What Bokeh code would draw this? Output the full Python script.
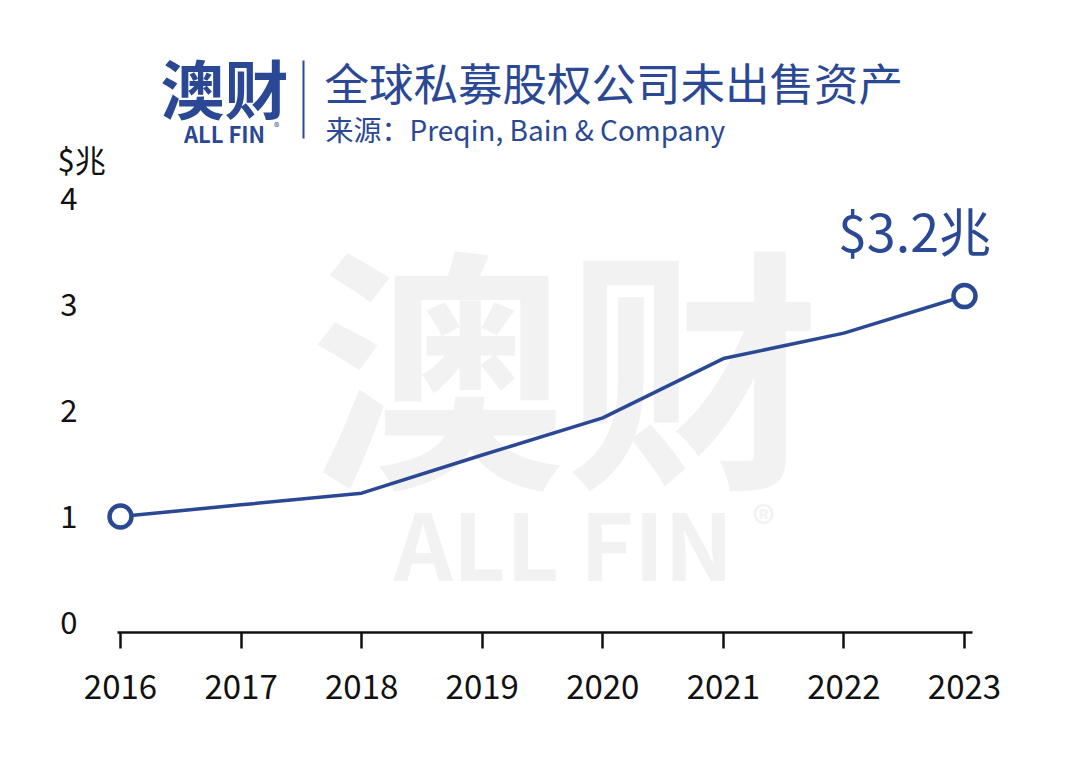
from bokeh.plotting import figure
from bokeh.models import Range1d, FixedTicker, Label, ColumnDataSource
from bokeh.embed import file_html
from bokeh.resources import INLINE

# ---- data ----
years = [2016, 2017, 2018, 2019, 2020, 2021, 2022, 2023]
values = [1.00, 1.11, 1.22, 1.58, 1.93, 2.49, 2.73, 3.08]
y_ticks = [0, 1, 2, 3, 4]
x_tick_labels = [str(y) for y in years]
title_text = "全球私募股权公司未出售资产"
source_text = "来源：Preqin, Bain & Company"
unit_text = "$兆"
callout_text = "$3.2兆"

NAVY = "#2b4894"
FONT = "Noto Sans CJK SC"

# ---- layout (page pixels) ----
W, H = 1064, 751
L, R, T, B = 50, 1060, 20, 632           # frame edges
PX_YEAR = 120.57                          # pixels per year
X0 = 120                                  # page x of first year
PX_UNIT = 106.0                           # pixels per unit on y
Y0 = 622                                  # page y of value 0
xs, xe = years[0] - (X0 - L) / PX_YEAR, years[0] + (R - X0) / PX_YEAR
ys, ye = -(B - Y0) / PX_UNIT, (Y0 - T) / PX_UNIT


def dx(px):
    return xs + (px - L) / (R - L) * (xe - xs)


def dy(py):
    return ye - (py - T) / (B - T) * (ye - ys)


p = figure(width=W, height=H, output_backend="svg", toolbar_location=None,
           x_range=Range1d(xs, xe), y_range=Range1d(ys, ye),
           min_border_left=L, min_border_right=W - R,
           min_border_top=T, min_border_bottom=H - B)
p.outline_line_color = None
p.background_fill_color = "white"
p.border_fill_color = "white"
p.grid.visible = False

# x axis
p.xaxis.ticker = FixedTicker(ticks=years)
p.xaxis.bounds = (dx(117), dx(972))
p.xaxis.major_label_overrides = {y: s for y, s in zip(years, x_tick_labels)}
p.xaxis.axis_line_color = "#111111"
p.xaxis.axis_line_width = 2.5
p.xaxis.major_tick_line_color = "#111111"
p.xaxis.major_tick_line_width = 2.5
p.xaxis.major_tick_out = 16
p.xaxis.major_tick_in = 0
p.xaxis.minor_tick_line_color = None
p.xaxis.major_label_text_font = FONT
p.xaxis.major_label_text_font_size = "33px"
p.xaxis.major_label_text_color = "#111111"
p.xaxis.major_label_standoff = 26

# y axis: labels pulled into the frame area (right edge at x=77)
p.yaxis.ticker = FixedTicker(ticks=y_ticks)
p.yaxis.axis_line_color = None
p.yaxis.major_tick_line_color = None
p.yaxis.major_tick_out = 0
p.yaxis.major_tick_in = 0
p.yaxis.minor_tick_line_color = None
p.yaxis.major_label_text_font = FONT
p.yaxis.major_label_text_font_size = "31px"
p.yaxis.major_label_text_color = "#111111"
p.yaxis.major_label_standoff = -(77 - L)

# watermark
for txt, px, py, size in [("澳财", 565, 356, "255px"),
                          ("ALL FIN", 563, 540, "92px"),
                          ("®", 763, 520, "44px")]:
    p.add_layout(Label(x=dx(px), y=dy(py), text=txt, text_font=FONT,
                       text_font_size=size, text_font_style="bold",
                       text_color="#f2f2f2", text_align="center",
                       text_baseline="middle", level="underlay"))

# data line
src = ColumnDataSource(dict(x=years, y=values))
p.line("x", "y", source=src, line_color=NAVY, line_width=3.5)
ends = ColumnDataSource(dict(x=[years[0], years[-1]], y=[values[0], values[-1]]))
p.scatter("x", "y", source=ends, size=22, fill_color="white",
          line_color=NAVY, line_width=4.5)

# callout
p.add_layout(Label(x=years[-1], y=values[-1], x_offset=-50, y_offset=67,
                   text=callout_text, text_font=FONT, text_font_size="52px",
                   text_color=NAVY, text_align="center", text_baseline="middle"))

# unit label
p.add_layout(Label(x=dx(57), y=dy(158), text=unit_text, text_font=FONT,
                   text_font_size="31px", text_color="#111111",
                   text_align="left", text_baseline="middle"))

# header
p.add_layout(Label(x=dx(160), y=dy(85), text="澳财", text_font=FONT,
                   text_font_size="64px", text_font_style="bold",
                   text_color=NAVY, text_align="left", text_baseline="middle"))
p.add_layout(Label(x=dx(224), y=dy(132), text="ALL FIN", text_font=FONT,
                   text_font_size="22px", text_font_style="bold",
                   text_color=NAVY, text_align="center", text_baseline="middle"))
p.add_layout(Label(x=dx(276), y=dy(125), text="®", text_font=FONT,
                   text_font_size="11px", text_color=NAVY,
                   text_align="center", text_baseline="middle"))
p.segment(x0=[dx(303)], y0=[dy(60)], x1=[dx(303)], y1=[dy(138)],
          line_color=NAVY, line_width=2)
p.add_layout(Label(x=dx(324), y=dy(81), text=title_text, text_font=FONT,
                   text_font_size="44.5px", text_color=NAVY,
                   text_align="left", text_baseline="middle"))
p.add_layout(Label(x=dx(325), y=dy(128), text=source_text, text_font=FONT,
                   text_font_size="28px", text_color=NAVY,
                   text_align="left", text_baseline="middle"))

open("out.html", "w").write(file_html(p, INLINE))
